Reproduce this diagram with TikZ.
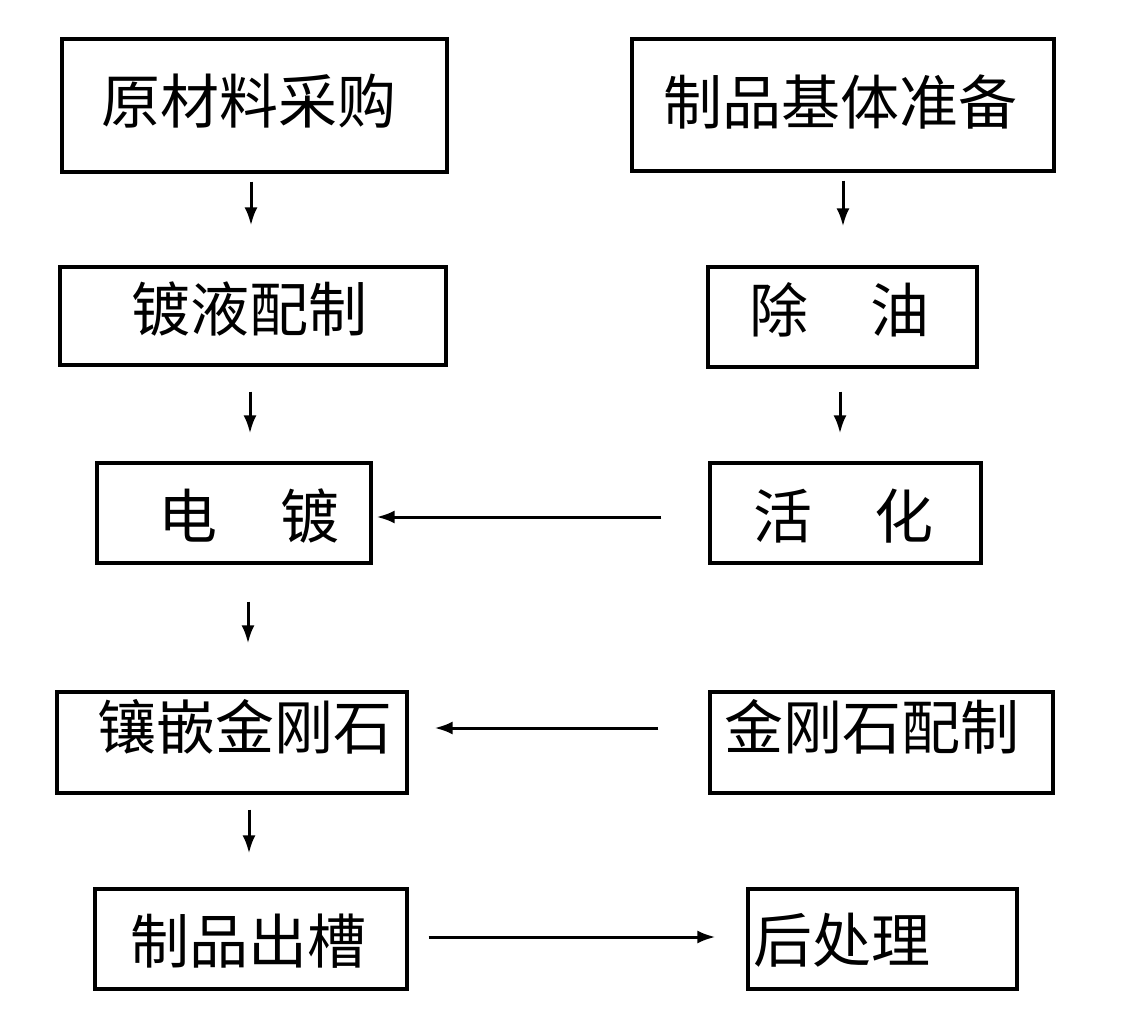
\documentclass[tikz,border=0pt]{standalone}
\usepackage{fontspec}
\newfontfamily\cjk{Noto Sans CJK SC}
\usetikzlibrary{arrows.meta}
\begin{document}
\begin{tikzpicture}[x=1pt,y=-1pt,
  box/.style={draw, line width=3.2pt, inner sep=0pt, rectangle},
  txt/.style={font=\cjk\fontsize{59}{59}\selectfont, inner sep=0pt},
  arr/.style={line width=3pt, -{Latex[length=18pt,width=13pt]}}]
\useasboundingbox[fill=white] (0,0) rectangle (1132,1025);
\node[box, minimum width=385, minimum height=133,
  label={[txt,xshift=-5.5,yshift=4.5]center:原材料采购}] (b1) at (254.5,105.5) {};
\node[box, minimum width=422, minimum height=132,
  label={[txt,xshift=-2.5,yshift=3]center:制品基体准备}] (b2) at (843,105) {};
\node[box, minimum width=386, minimum height=98,
  label={[txt,xshift=-4,yshift=7]center:镀液配制}] (b3) at (253,316) {};
\node[box, minimum width=269, minimum height=100,
  label={[txt,xshift=-3,yshift=7]center:除\hspace{62pt}油}] (b4) at (842.5,317) {};
\node[box, minimum width=274, minimum height=100,
  label={[txt,xshift=15,yshift=-3]center:电\hspace{63pt}镀}] (b5) at (234,513) {};
\node[box, minimum width=271, minimum height=100,
  label={[txt,xshift=-2,yshift=-3]center:活\hspace{62pt}化}] (b6) at (845.5,513) {};
\node[box, minimum width=350, minimum height=101,
  label={[txt,xshift=13,yshift=15.5]center:镶嵌金刚石}] (b7) at (232,742.5) {};
\node[box, minimum width=343, minimum height=101,
  label={[txt,xshift=-9.5,yshift=15.5]center:金刚石配制}] (b8) at (881.5,742.5) {};
\node[box, minimum width=312, minimum height=100,
  label={[txt,xshift=-2.5,yshift=-2]center:制品出槽}] (b9) at (251,939) {};
\node[box, minimum width=269, minimum height=100,
  label={[txt,xshift=-41,yshift=-1]center:后处理}] (b10) at (882.5,939) {};
% vertical arrows
\draw[arr, shorten <=8pt, shorten >=40pt] (b1.south -| 251,0) -- (b3.north -| 251,0);
\draw[arr, shorten <=8pt, shorten >=39pt] (b2.south -| 843,0) -- (b4.north -| 843,0);
\draw[arr, shorten <=25pt, shorten >=28pt] (b3.south -| 250,0) -- (b5.north -| 250,0);
\draw[arr, shorten <=23pt, shorten >=28pt] (b4.south -| 840,0) -- (b6.north -| 840,0);
\draw[arr, shorten <=37pt, shorten >=47pt] (b5.south -| 248,0) -- (b7.north -| 248,0);
\draw[arr, shorten <=15pt, shorten >=34pt] (b7.south -| 249,0) -- (b9.north -| 249,0);
% horizontal arrows
\draw[arr, shorten <=47pt, shorten >=4pt] (b6.west |- 0,517) -- (b5.east |- 0,517);
\draw[arr, shorten <=50pt, shorten >=26pt] (b8.west |- 0,728) -- (b7.east |- 0,728);
\draw[arr, shorten <=20pt, shorten >=31pt] (b9.east |- 0,937) -- (b10.west |- 0,937);
\end{tikzpicture}
\end{document}
